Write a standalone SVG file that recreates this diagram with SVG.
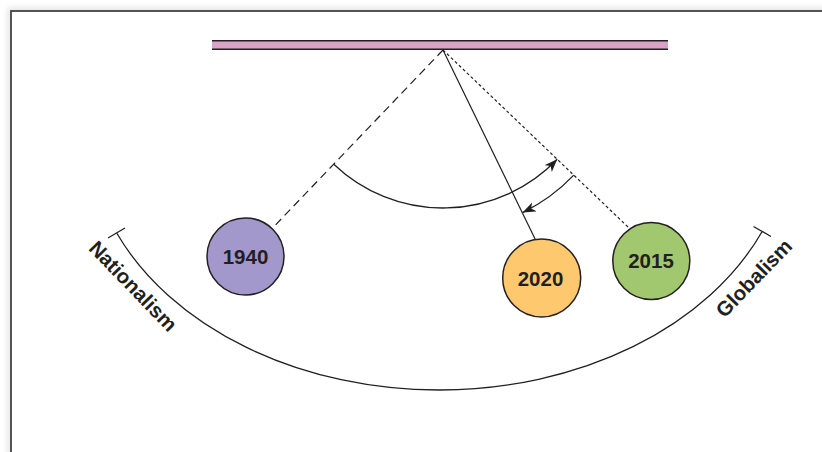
<svg xmlns="http://www.w3.org/2000/svg" width="822" height="452" viewBox="0 0 822 452">
<defs>
<filter id="sh" x="-5%" y="-5%" width="110%" height="110%"><feGaussianBlur stdDeviation="3"/></filter>
<marker id="ah" markerUnits="userSpaceOnUse" markerWidth="15" markerHeight="11" refX="13" refY="5" orient="auto" viewBox="0 0 15 11">
<path d="M0,0 L13,5 L0,10 L3.5,5 z" fill="#231f20"/>
</marker>
<style>
.ln{stroke:#231f20;stroke-width:1.2;fill:none}
.arc{stroke:#231f20;stroke-width:1.3;fill:none}
.node circle{stroke:#231f20;stroke-width:1.5}
.node text{font-family:"Liberation Sans",Arial,sans-serif;font-weight:bold;font-size:20.5px;fill:#231f20;text-anchor:middle}
.lbl{font-family:"Liberation Sans",Arial,sans-serif;font-weight:bold;font-size:20.5px;fill:#231f20;text-anchor:middle}
</style>
</defs>
<rect width="822" height="452" fill="#ffffff"/>
<rect x="11" y="11" width="900" height="600" fill="none" stroke="#000" stroke-opacity="0.12" stroke-width="6" filter="url(#sh)"/>
<rect x="11" y="11" width="900" height="600" fill="#ffffff" stroke="#444444" stroke-width="1.8"/>
<g id="bar">
<rect x="212" y="40.7" width="456" height="8.6" fill="#d9a3c6"/>
<line x1="212" y1="40.7" x2="668" y2="40.7" stroke="#231f20" stroke-width="1.4"/>
<line x1="212" y1="49.3" x2="668" y2="49.3" stroke="#231f20" stroke-width="1.4"/>
</g>
<g id="connectors">
<line class="ln" x1="443" y1="50" x2="272.6" y2="228" stroke-dasharray="8,5"/>
<line class="ln" x1="443" y1="50" x2="535.6" y2="240"/>
<line class="ln" x1="443" y1="50" x2="628" y2="227" stroke-dasharray="3,2.5"/>
<path class="arc" d="M333.8,164.2 A158,158 0 0 0 557.2,159.2" marker-end="url(#ah)"/>
<path class="arc" d="M573.8,175.1 A181,181 0 0 1 522.6,212.6" marker-end="url(#ah)"/>
<path class="arc" d="M116.7,233 A351,260 0 0 0 762,231.7"/>
<line class="arc" x1="108" y1="238" x2="125" y2="228"/>
<line class="arc" x1="753.5" y1="226.5" x2="771" y2="236.5"/>
</g>
<g id="node-1940" class="node">
<circle cx="245.5" cy="256.5" r="38.5" fill="#a398cc"/>
<text x="245.5" y="263.5">1940</text>
</g>
<g id="node-2020" class="node">
<circle cx="541.7" cy="278" r="39" fill="#fec86e"/>
<text x="540.5" y="285.5">2020</text>
</g>
<g id="node-2015" class="node">
<circle cx="651.3" cy="261" r="38.5" fill="#a2c86f"/>
<text x="651" y="267.5">2015</text>
</g>
<g id="labels">
<text class="lbl" transform="translate(128,291) rotate(46)">Nationalism</text>
<text class="lbl" transform="translate(759,283) rotate(-46)">Globalism</text>
</g>
</svg>
